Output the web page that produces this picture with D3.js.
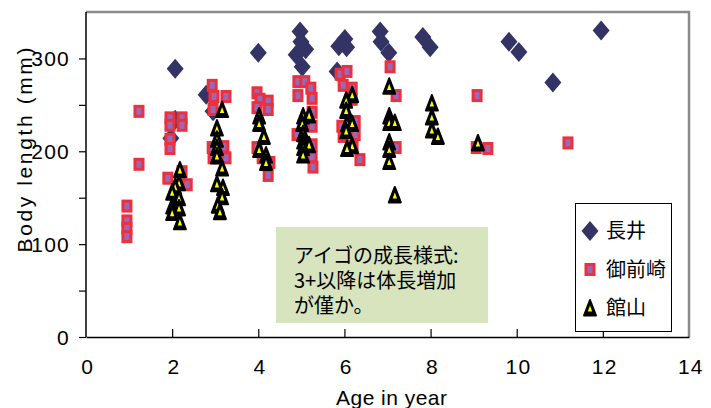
<!DOCTYPE html>
<html>
<head>
<meta charset="utf-8">
<script src="https://cdn.jsdelivr.net/npm/d3@7"></script>
<style>
  body { margin: 0; background: #fff; }
  svg { display: block; }
  text { font-family: "Liberation Sans", Arial, sans-serif; fill: #000; }
  .jp { font-family: "Noto Sans CJK JP", sans-serif; }
</style>
</head>
<body>
<div id="chart"></div>
<script>
// age (years), body length (mm)
const nagai = [
  [2.07, 289], [1.97, 214], [2.07, 234], [2.79, 261], [2.95, 243], [4.0, 306],
  [4.97, 329], [4.99, 318], [4.88, 304], [5.1, 310], [5.02, 291],
  [6.01, 321], [5.87, 313], [6.05, 312], [5.83, 286],
  [6.83, 329], [6.85, 318], [7.03, 306], [7.82, 323], [7.99, 312],
  [9.82, 318], [10.05, 307], [10.84, 274], [11.96, 330]
];
const omaezaki = [
  [0.95, 141], [0.95, 125], [0.95, 117], [0.95, 108], [1.23, 243], [1.23, 186],
  [1.95, 236], [1.95, 228], [1.95, 213], [1.95, 203], [2.23, 236], [2.23, 228], [1.9, 171], [2.23, 178], [2.35, 164],
  [2.93, 271], [2.97, 259], [2.95, 245], [3.25, 259], [2.93, 204], [3.2, 205], [3.25, 193], [2.95, 193],
  [3.97, 263], [4.04, 256], [3.97, 247], [4.23, 254], [4.23, 245], [3.97, 204], [4.09, 193], [4.27, 188], [4.23, 174],
  [4.92, 275], [5.08, 275], [4.92, 260], [5.22, 268], [5.25, 257], [5.25, 242], [5.25, 227], [4.9, 218], [5.25, 207], [5.25, 194], [5.27, 183],
  [5.9, 283], [6.06, 286], [5.97, 271], [6.18, 268], [6.18, 256], [5.94, 227], [6.25, 232], [5.97, 216], [6.25, 218], [6.2, 205], [6.36, 191],
  [7.06, 291], [7.2, 260], [7.2, 204],
  [9.08, 260], [9.06, 204], [9.33, 203], [11.19, 209]
];
const tateyama = [
  [2.18, 180], [2.16, 166], [2.07, 162], [2.0, 156], [2.16, 150], [2.0, 141], [2.16, 139], [2.0, 134], [2.18, 124],
  [3.16, 245], [3.04, 225], [3.04, 213], [3.04, 204], [3.04, 195], [3.16, 182], [3.04, 165], [3.18, 161], [3.16, 151], [3.06, 142], [3.11, 135],
  [4.02, 238], [4.02, 230], [4.13, 216], [4.02, 202], [4.18, 196], [4.18, 188],
  [5.04, 238], [5.18, 239], [5.02, 230], [5.04, 219], [5.04, 211], [5.18, 207], [5.04, 204], [5.04, 196],
  [6.18, 261], [6.04, 255], [6.04, 244], [6.06, 230], [6.18, 230], [6.04, 222], [6.18, 206], [6.06, 203],
  [7.04, 270], [7.04, 238], [7.04, 231], [7.17, 231], [7.04, 210], [7.04, 202], [7.04, 189], [7.17, 153],
  [8.03, 252], [8.03, 237], [8.03, 223], [8.17, 216],
  [9.1, 209]
];
const seriesNames = ["長井", "御前崎", "館山"];
const xTicks = [0, 2, 4, 6, 8, 10, 12, 14];
const yTicks = [0, 50, 100, 150, 200, 250, 300];
const noteLines = ["アイゴの成長様式:", "3+以降は体長増加", "が僅か。"];

const W = 711, H = 408;
const margin = {top: 12, right: 22, bottom: 71, left: 86};

const svg = d3.select("#chart").append("svg")
    .attr("width", W)
    .attr("height", H);

const x = d3.scaleLinear().domain([0, 14]).range([margin.left, W - margin.right]);
const y = d3.scaleLinear().domain([0, 350]).range([H - margin.bottom, margin.top]);

// frame: gray top / right
svg.append("path")
    .attr("d", `M${x(0)},${y(350)}H${x(14)}V${y(0)}`)
    .attr("fill", "none")
    .attr("stroke", "#8a8a8a")
    .attr("stroke-width", 2.5);

// y axis
const yAxis = svg.append("g")
    .attr("transform", `translate(${x(0)},0)`)
    .call(d3.axisLeft(y).tickValues(yTicks).tickSize(7).tickPadding(9)
        .tickFormat(d => d % 100 === 0 ? d : ""));
yAxis.select(".domain").attr("d", `M0,${y(350)}V${y(0)}`).attr("stroke-width", 1.5);
yAxis.selectAll(".tick line").attr("stroke-width", 1.2);
yAxis.selectAll("text")
    .attr("font-size", 21)
    .attr("letter-spacing", 1.2)
    .attr("dy", "0.36em");

// x axis
const xAxis = svg.append("g")
    .attr("transform", `translate(0,${y(0)})`)
    .call(d3.axisBottom(x).tickValues(xTicks).tickSize(-8).tickSizeOuter(0));
xAxis.select(".domain").attr("stroke-width", 1.5);
xAxis.selectAll(".tick line")
    .attr("stroke-width", 1.2)
    .attr("display", d => (d === 0 || d === 14) ? "none" : null);
xAxis.selectAll("text")
    .attr("font-size", 21)
    .attr("letter-spacing", 1.2)
    .attr("y", 37)
    .attr("dy", 0)
    .attr("dx", "0.06em");

// axis titles
svg.append("text")
    .attr("x", (x(0) + x(14)) / 2 + 4)
    .attr("y", H - 3)
    .attr("text-anchor", "middle")
    .attr("font-size", 21)
    .attr("textLength", 111)
    .attr("lengthAdjust", "spacing")
    .text("Age in year");

svg.append("text")
    .attr("transform", `translate(32,150) rotate(-90)`)
    .attr("text-anchor", "middle")
    .attr("font-size", 21)
    .attr("textLength", 205)
    .attr("lengthAdjust", "spacing")
    .text("Body length (mm)");

// marker shapes
function diamond(g) {
  g.append("path").attr("d", "M0,-10L8.5,0L0,10L-8.5,0Z").attr("fill", "#333366");
}
function square(g) {
  g.append("rect").attr("x", -5.5).attr("y", -6.5).attr("width", 11).attr("height", 13).attr("fill", "#ee2f3c");
  g.append("rect").attr("x", -2.5).attr("y", -3.5).attr("width", 5).attr("height", 7).attr("fill", "#9a68b4");
}
function triangle(g) {
  g.append("path").attr("d", "M0,-8L6,7.5L-6,7.5Z")
      .attr("fill", "#000").attr("stroke", "#000").attr("stroke-width", 2).attr("stroke-linejoin", "round");
  g.append("path").attr("d", "M0,-2.5L2.2,3.6L-2.2,3.6Z").attr("fill", "#ffff00");
}

const series = [
  {name: seriesNames[0], data: nagai, draw: diamond},
  {name: seriesNames[1], data: omaezaki, draw: square},
  {name: seriesNames[2], data: tateyama, draw: triangle}
];

series.forEach(s => {
  svg.append("g")
      .selectAll("g")
      .data(s.data)
      .enter().append("g")
      .attr("transform", d => `translate(${x(d[0])},${y(d[1])})`)
      .each(function () { s.draw(d3.select(this)); });
});

// note box
const note = svg.append("g");
note.append("rect")
    .attr("x", 276).attr("y", 227)
    .attr("width", 212).attr("height", 96)
    .attr("fill", "#d7e4bd");
note.selectAll("text")
    .data(noteLines)
    .enter().append("text")
    .attr("class", "jp")
    .attr("x", 294)
    .attr("y", (d, i) => 263 + i * 25)
    .attr("font-size", 20)
    .text(d => d);

// legend
const legend = svg.append("g");
legend.append("rect")
    .attr("x", 575.5).attr("y", 203.5)
    .attr("width", 96).attr("height", 128)
    .attr("fill", "#fff")
    .attr("stroke", "#000")
    .attr("stroke-width", 1);
series.forEach((s, i) => {
  const cy = 231 + i * 38.5;
  const g = legend.append("g").attr("transform", `translate(590,${cy})`);
  s.draw(g);
  legend.append("text")
      .attr("class", "jp")
      .attr("x", 606)
      .attr("y", cy)
      .attr("dy", "0.36em")
      .attr("font-size", 20)
      .text(s.name);
});
</script>
</body>
</html>
